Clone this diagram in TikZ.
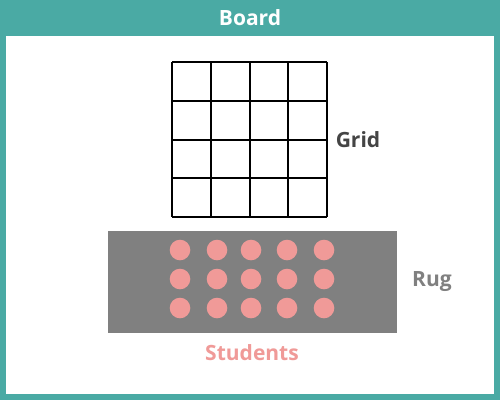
\documentclass[tikz,border=0pt]{standalone}
\usepackage{fontspec}
\setmainfont{Open Sans}
\usetikzlibrary{calc}
\definecolor{tealc}{HTML}{4AAAA4}
\definecolor{rugc}{HTML}{808080}
\definecolor{pinkc}{HTML}{F09A98}
\definecolor{darkc}{HTML}{444444}
\begin{document}
\begin{tikzpicture}[x=1pt,y=-1pt,
  lbl/.style={font=\fontsize{21}{25}\selectfont\bfseries, inner sep=0pt},
  student/.style={circle, fill=pinkc, minimum size=20.6pt, inner sep=0pt},
  gridline/.style={line width=2pt, black}]
\useasboundingbox (0,0) rectangle (500,400);
\fill[tealc] (0,0) rectangle (500,400);
\fill[white] (6,36) rectangle (494,394);
\node[lbl, text=white] (board) at (250,18) {Board};
% grid
\coordinate (g0) at (172,62);
\foreach \i in {0,...,4} {
  \draw[gridline] ($(g0)+(\i*38.75,0)$) -- ($(g0)+(\i*38.75,155)$);
  \draw[gridline] ($(g0)+(0,\i*38.75)$) -- ($(g0)+(155,\i*38.75)$);
}
\node[lbl, text=darkc] (gridlbl) at (358,140) {Grid};
% rug
\node[fill=rugc, minimum width=289pt, minimum height=102pt, inner sep=0pt, anchor=north west] (rug) at (108,231) {};
\foreach \x [count=\c] in {180,217,251,287,324} {
  \foreach \y [count=\r] in {250,279,308} {
    \node[student] (s\r\c) at (\x,\y) {};
  }
}
\node[lbl, text=rugc] (ruglbl) at (432,282) {Rug};
\node[lbl, text=pinkc] (students) at (252,353) {Students};
\end{tikzpicture}
\end{document}
